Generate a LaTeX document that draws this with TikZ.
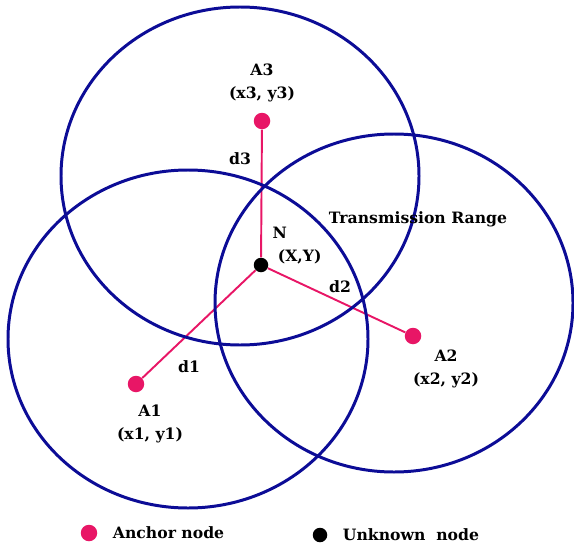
\documentclass[tikz,border=0pt]{standalone}
\usepackage{fontspec}
\setmainfont{DejaVu Serif}
\usetikzlibrary{positioning}
\definecolor{range}{RGB}{12,12,150}
\definecolor{anchor}{RGB}{232,22,102}

\begin{document}
\begin{tikzpicture}[x=0.02cm, y=-0.02cm,
  lbl/.style={font=\fontsize{8.9}{13}\selectfont\bfseries, align=center, inner sep=0pt},
  anch/.style={circle, fill=anchor, inner sep=0pt, minimum size=0.33cm},
  unkn/.style={circle, fill=black, inner sep=0pt, minimum size=0.29cm},
  rng/.style={draw=range, line width=1.7pt},
  link/.style={draw=anchor, line width=1.1pt},
]
\useasboundingbox (0,0) rectangle (574,544);

% Nodes
\node[anch] (a3) at (262,121) {};
\node[anch] (a2) at (413,336) {};
\node[anch] (a1) at (136,384) {};
\node[unkn] (n) at (261,265) {};

% Distances
\draw[link] (n) -- (a3);
\draw[link] (n) -- (a2);
\draw[link] (n) -- (a1);

% Transmission ranges
\draw[rng] (240,176) ellipse [x radius=179, y radius=169];
\draw[rng] (188,339) ellipse [x radius=180, y radius=169];
\draw[rng] (394,303) ellipse [x radius=179, y radius=169];

% Labels
\node[lbl] (a3lbl) at (262,83) {A3\\(x3, y3)};
\node[lbl] (a2lbl) at (446,369) {A2\\(x2, y2)};
\node[lbl] (a1lbl) at (150,424) {A1\\(x1, y1)};
\node[lbl, align=left] (nlbl) at (297,246) {N\\\ (X,Y)};
\node[lbl] (d3) at (240,159) {d3};
\node[lbl] (d2) at (340,287) {d2};
\node[lbl] (d1) at (189,367) {d1};
\node[lbl] (txr) at (418,219) {Transmission Range};

% Legend
\node[anch] (keya) at (89,533) {};
\node[lbl, right=0.3cm of keya] (keyatxt) {Anchor node};
\node[unkn] (keyu) at (320,535) {};
\node[lbl, right=0.3cm of keyu] (keyutxt) {Unknown\ \ node};
\end{tikzpicture}
\end{document}
